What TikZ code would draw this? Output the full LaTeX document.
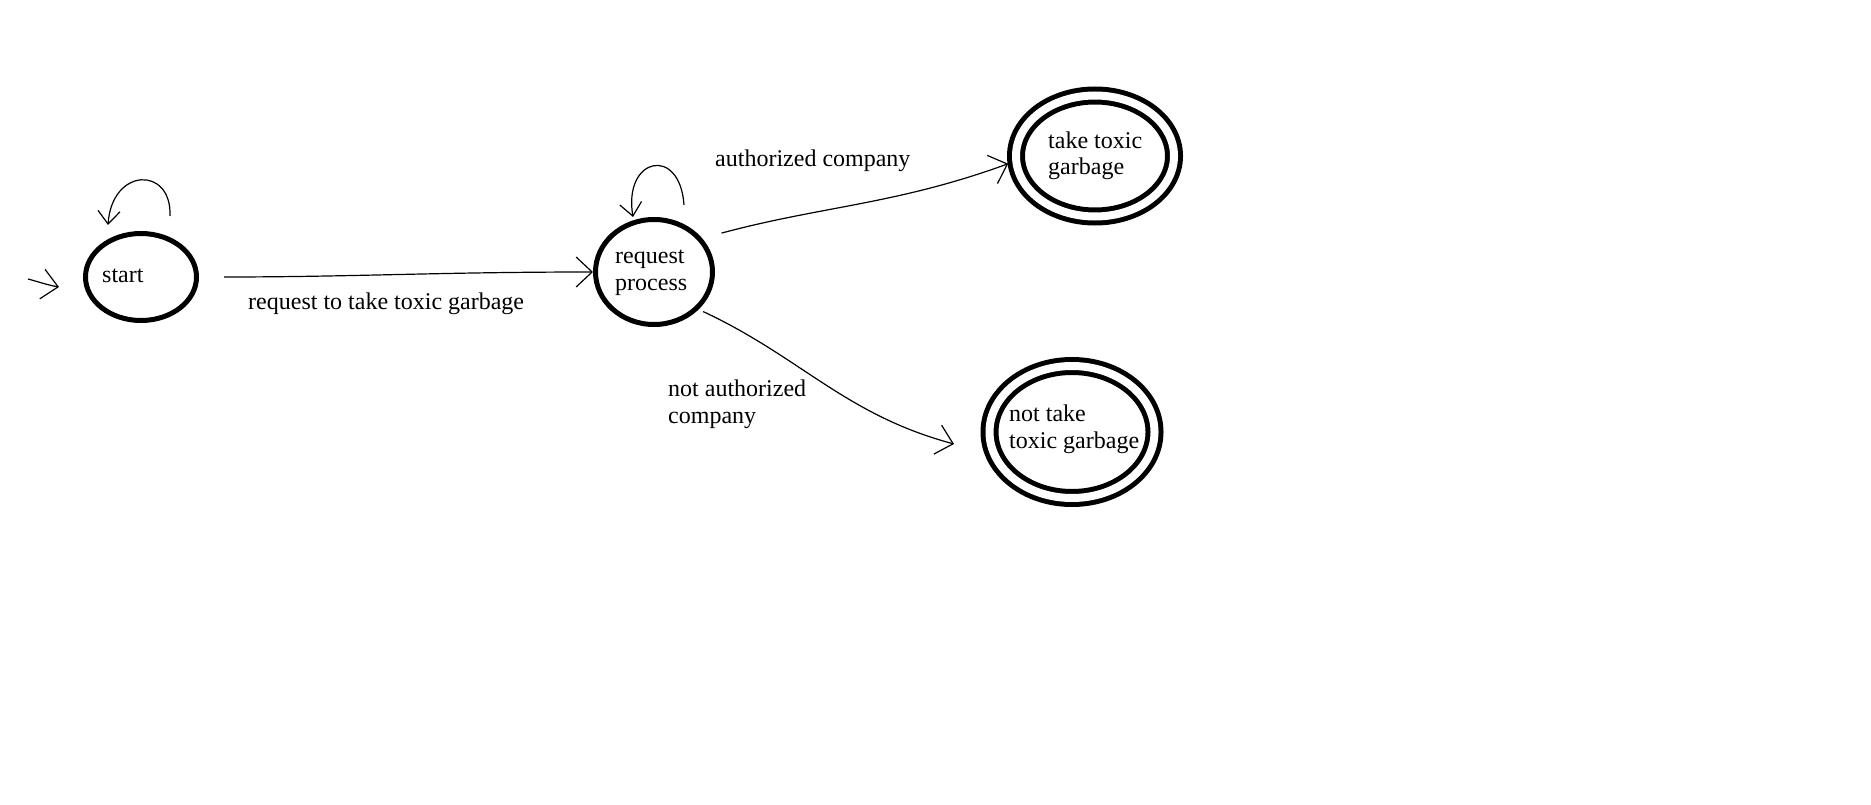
\documentclass[tikz,border=0pt]{standalone}
\usepackage{fontspec}
\setmainfont{Liberation Serif}
\usetikzlibrary{arrows.meta,shapes.geometric}

\tikzset{
  state/.style={draw, ellipse, line width=5pt, inner sep=0pt},
  accept/.style={state, double, double distance=8pt},
  txt/.style={font=\fontsize{24}{26.5}\selectfont, inner sep=0pt, align=left},
  trans/.style={line width=1.2pt, -{Straight Barb[length=16pt,width=30pt]}},
  loopy/.style={line width=1.2pt, -{Straight Barb[length=13pt,width=22pt]}}
}

\begin{document}
\begin{tikzpicture}[x=1pt, y=-1pt]
    \useasboundingbox (0,0) rectangle (1871,805);
% states
    \node[state, minimum width=111pt, minimum height=87pt] (start) at (141,277) {};
    \node[state, minimum width=117pt, minimum height=105pt] (req) at (654,272) {};
    \node[accept, minimum width=158pt, minimum height=121pt] (take) at (1095,156) {};
    \node[accept, minimum width=165pt, minimum height=132pt] (nottake) at (1072,432) {};
% state texts (base = last line)
    \node[txt, anchor=base west] (start-t) at (102,282) {start};
    \node[txt, anchor=base west] (req-t) at (615,290) {request\\process};
    \node[txt, anchor=base west] (take-t) at (1048,175) {take toxic\\garbage};
    \node[txt, anchor=base west] (nottake-t) at (1009,448) {not take\\toxic garbage};
% free ends
    \coordinate (init) at (28,279);
    \coordinate (nt-in) at (954,444);
% transitions
    \draw[trans] (init) to[out=-15, in=170] ([shift={(-24,10)}]start.west);
    \draw[loopy] ([shift={(29,-15)}]start.north) .. controls +(2,-50) and +(4,-58) .. ([shift={(-33,-6)}]start.north);
    \draw[trans, shorten <=25pt] (start.east) to[out=0, in=180] (req.west);
    \draw[loopy] ([shift={(30,-12)}]req.north) .. controls +(-4,-60) and +(-10,-60) .. ([shift={(-21,0)}]req.north);
    \draw[trans, shorten <=20pt, shorten >=6pt] (req.35) to[out=15, in=200] (take.184);
    \draw[trans, shorten <=5pt] (req.-40) to[out=-25, in=165] (nt-in);
% labels
    \node[txt, anchor=base west] (l-req) at (248,309) {request to take toxic garbage};
    \node[txt, anchor=base west] (l-auth) at (715,167) {authorized company};
    \node[txt, anchor=base west] (l-nauth) at (668,423) {not authorized\\company};
\end{tikzpicture}
\end{document}
